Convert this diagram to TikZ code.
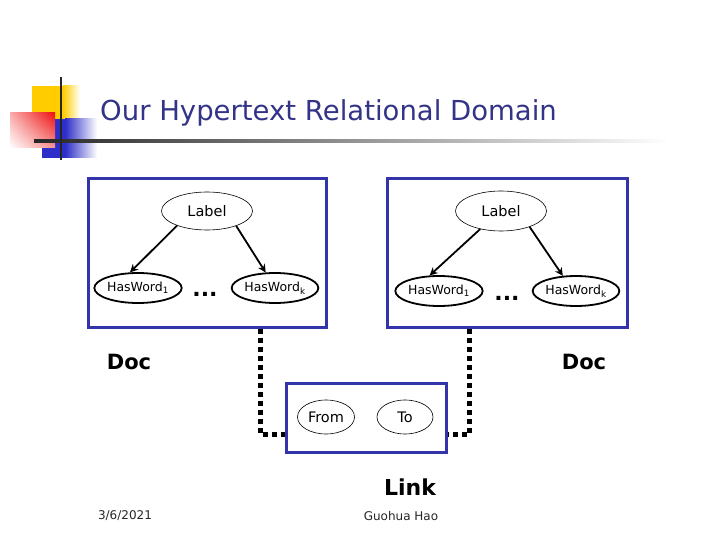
\documentclass[tikz,border=0pt]{standalone}
\usepackage{fontspec}
\setmainfont{DejaVu Sans}
\usetikzlibrary{arrows.meta,shapes.geometric,shadings}
\definecolor{navy}{HTML}{333388}
\definecolor{boxblue}{HTML}{3333AA}
\definecolor{sqyellow}{HTML}{FFCC00}
\definecolor{sqred}{HTML}{EE1111}
\definecolor{sqblue}{HTML}{2E2EC8}
\tikzset{
  domainbox/.style={draw=boxblue, line width=3pt, rectangle, inner sep=0pt},
  thinell/.style={draw, ellipse, line width=0.6pt, inner sep=0pt, font=\fontsize{14.5}{17}\selectfont},
  thickell/.style={draw, ellipse, line width=1.8pt, inner sep=0pt, minimum width=82pt, minimum height=30pt, font=\fontsize{12.5}{15}\selectfont},
  relarrow/.style={line width=1.8pt, -{Stealth[length=8pt,width=8pt]}},
  dotline/.style={line width=5pt, dash pattern=on 5pt off 4pt},
  bigbold/.style={font=\fontsize{21}{26}\selectfont\bfseries},
  dotsnode/.style={font=\fontsize{22}{24}\selectfont\bfseries},
  footer/.style={font=\fontsize{12}{15}\selectfont, text=black!85}
}
\begin{document}
\begin{tikzpicture}[x=1pt,y=-1pt]
\useasboundingbox (0,0) rectangle (720,540);
% title decoration
\fill[sqyellow] (32,86) rectangle (63.5,119);
\shade[left color=sqyellow, right color=white] (63,86) rectangle (80,119);
\fill[sqblue] (42,119) rectangle (65.5,158);
\shade[left color=sqblue, right color=white] (65,119) rectangle (97,158);
\shade[upper right=sqred, upper left=sqred!35, lower right=sqred!45, lower left=white] (10,113) rectangle (55,148);
\shade[left color=black!85, right color=white] (34,140) rectangle (670,142.5);
\draw[line width=2pt, black!85] (61,77) -- (61,160);
\node[anchor=base west, text=navy, font=\fontsize{27.5}{32}\selectfont, inner sep=0pt] (title) at (100,121) {Our Hypertext Relational Domain};

% left document
\node[domainbox, minimum width=238pt, minimum height=148pt] (lbox) at (207,253) {};
\node[thinell, minimum width=91pt, minimum height=38pt] (llabel) at (207,211) {Label};
\node[thickell] (lw1) at (138,288) {HasWord\textsubscript{1}};
\node[thickell] (lwk) at (275,288) {HasWord\textsubscript{k}};
\node[dotsnode, anchor=base] (ldots) at (205,296) {...};
\draw[relarrow] (llabel.206) -- (lw1.117);
\draw[relarrow] (llabel.-27) -- (lwk.121);

% right document
\node[domainbox, minimum width=240pt, minimum height=148pt] (rbox) at (507,253) {};
\node[thinell, minimum width=91pt, minimum height=40pt] (rlabel) at (501,211) {Label};
\node[thickell] (rw1) at (439,291) {HasWord\textsubscript{1}};
\node[thickell] (rwk) at (576,291) {HasWord\textsubscript{k}};
\node[dotsnode, anchor=base] (rdots) at (507,300) {...};
\draw[relarrow] (rlabel.221) -- (rw1.121);
\draw[relarrow] (rlabel.-29) -- (rwk.131);

\node[bigbold] (ldoc) at (129,362) {Doc};
\node[bigbold] (rdoc) at (584,362) {Doc};

% link
\node[domainbox, minimum width=160pt, minimum height=69pt] (lnk) at (366,417.5) {};
\node[thinell, minimum width=57pt, minimum height=34pt] (from) at (326,417) {From};
\node[thinell, minimum width=56pt, minimum height=34pt] (to) at (405,417) {To};
\node[bigbold, font=\fontsize{22}{26}\selectfont\bfseries] (linklabel) at (410,487) {Link};

\coordinate (lc) at (260,434);
\coordinate (rc) at (469,434);
\draw[dotline] (lc |- lbox.south) -- (lc) -- (lnk.west |- lc);
\draw[dotline] (rc |- rbox.south) -- (rc) -- (lnk.east |- rc);

% footer
\node[footer] (date) at (125,516) {3/6/2021};
\node[footer] (author) at (401,516) {Guohua Hao};
\end{tikzpicture}
\end{document}
